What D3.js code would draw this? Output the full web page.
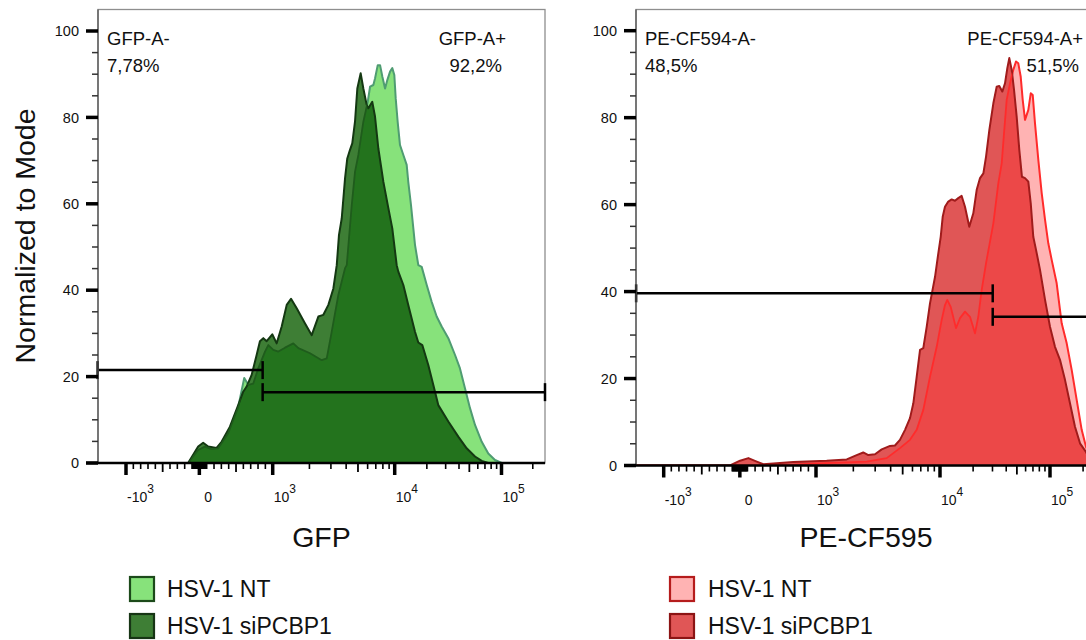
<!DOCTYPE html>
<html><head><meta charset="utf-8">
<script src="https://cdn.jsdelivr.net/npm/d3@7"></script>
<style>
body{margin:0;background:#fff}
svg{display:block}
text{font-family:"Liberation Sans",Arial,sans-serif;fill:#111}
</style>
</head><body>
<svg id="chart" width="1086" height="640"></svg>
<script>
// ---------------- DATA ----------------
// GFP panel: [fluorescence, % of mode]
const gfpNT = [[-153,0],[-16,3.0],[75,3.8],[167,3.2],[257,3.4],[393,6.9],[530,13],[612,19.7],[667,18.1],[735,18.4],[803,21.9],[895,25.8],[940,27.3],[1011,26.2],[1112,25.8],[1262,26.7],[1476,27.7],[1623,26.6],[2023,25.4],[2523,23.8],[2773,24.2],[3047,30.4],[3452,38.9],[3917,45.1],[4045,45.8],[4446,59.7],[4727,67.4],[5035,71.3],[5534,79],[6012,83.6],[6281,87.1],[6683,87.5],[6897,89],[7261,92.1],[7586,92.1],[7925,89.4],[8336,86.7],[8710,88.7],[9162,90.6],[9556,91.4],[9930,89.8],[10220,84.4],[10660,79],[11210,73.6],[12050,71.3],[12950,69],[13400,65.1],[14210,59.7],[15490,50.5],[16640,45.8],[17900,45.4],[19950,41.2],[22190,37.3],[24720,33.9],[27540,31.6],[31770,28.9],[36730,25],[40840,21.9],[45500,17.3],[50700,12.7],[56490,8.8],[65310,4.9],[75200,2.2],[86900,0.7],[100500,0]];
const gfpSi = [[-153,0],[-16,3.8],[52,4.7],[120,3.8],[235,3.5],[303,4.9],[417,8.4],[530,13.4],[598,16.5],[645,17.7],[713,20.4],[781,25],[826,28.2],[872,28.9],[918,28.2],[994,29.8],[1078,27.7],[1185,31.6],[1303,36.6],[1413,38],[1573,35.8],[1841,32.3],[2089,29.6],[2367,33.9],[2602,34.3],[2860,36.6],[3143,40.4],[3350,45.8],[3494,52.8],[3679,56.6],[3917,65.9],[4086,70.5],[4301,72.5],[4489,74],[4727,79],[4939,86.7],[5263,90.2],[5534,86.7],[5893,82.9],[6080,82.1],[6550,83.6],[6897,80.2],[7345,72.8],[8072,65.1],[8872,59],[9556,54.3],[10440,45.8],[10810,44.3],[12050,41.2],[13400,36.6],[15490,30.4],[16640,27.9],[18130,27.3],[20630,22.7],[22970,18.1],[25590,13.4],[31770,9.6],[39390,6.1],[47200,3.4],[56490,1.5],[65310,0.5],[75200,0]];
// PE-CF595 panel
const peNT = [[-1362,0],[-129,0],[702,0.2],[1013,0.5],[2567,0.9],[3716,1.7],[4753,4.0],[5728,5.9],[6486,8.2],[7334,12.8],[8305,20.4],[9404,27.3],[10360,33.5],[11100,36.9],[11650,38.1],[12510,36.5],[13970,31.6],[15200,33.9],[16870,35.4],[18740,34.2],[20800,30.4],[22290,34.2],[23940,40.4],[26200,46.5],[30550,55.7],[33880,64.9],[36390,69.5],[38190,76.4],[40380,84.1],[43290,87.9],[46380,91],[49070,92.9],[51500,92.5],[54180,89.4],[56490,84.1],[59290,79.5],[63530,81.8],[66830,85.6],[69660,85.2],[73050,78.7],[78320,70.3],[84100,62.6],[90160,56.5],[96500,51.1],[103600,47.3],[115000,41.9],[127700,32.7],[141900,28.1],[157500,22],[174900,15.1],[194200,8.2],[212600,4.3],[240900,1],[262144,0]];
const peSi = [[-1362,0],[-129,0],[3,1.1],[112,1.7],[222,0.9],[308,0.3],[702,0.8],[1219,1.1],[1770,1.4],[2128,2.4],[2404,3.0],[2642,2.4],[2992,2.6],[3388,3.7],[3953,4.5],[4335,4.6],[4753,5.9],[5224,8.2],[5728,10.9],[6095,14.3],[6486,20.4],[6902,26.6],[7334,27],[7810,31.9],[8305,37.3],[9120,43.4],[9690,48.8],[10150,52.6],[10580,57.2],[11100,59.5],[11890,60.7],[12770,61.2],[13680,60.9],[14650,61.5],[15740,62],[16870,59.5],[18460,54.9],[20080,58],[21560,63.4],[23120,66.1],[24790,67.2],[26200,71],[28100,77.2],[30550,83.3],[32760,87.1],[34590,87.3],[36840,86],[38990,87.9],[40930,91.4],[42660,93.7],[44870,91],[47100,86.4],[49800,80.2],[52600,72.6],[55600,66.4],[59290,66.1],[63530,65.3],[66830,60.3],[70470,52.6],[74650,49.6],[81130,45],[90160,38.1],[100000,31.9],[111000,27.3],[123300,24.3],[136900,19.7],[152000,14.3],[168800,8.9],[187500,5.1],[212600,3.1],[246000,0]];

// gates: [xStart, xEnd, height]
const gfpGates = [[-1387,863,21.5],[863,262144,16.4]];
const peGates = [[-1362,30150,39.6],[30150,262144,34.2]];
const gfpGateText = [["GFP-A-","7,78%"],["GFP-A+","92,2%"]];
const peGateText = [["PE-CF594-A-","48,5%"],["PE-CF594-A+","51,5%"]];

const legendLabels = ["HSV-1 NT","HSV-1 siPCBP1"];
const axisTitles = ["GFP","PE-CF595"];
const yTitle = "Normalized to Mode";

// ticks
const xMajor = [-1000,0,1000,10000,100000];
const xMajorLabels = [["-10","3"],["0",""],["10","3"],["10","4"],["10","5"]];
const xMid = [-500,500,5000,50000];
const xMinor = [-900,-800,-700,-600,-400,-300,-200,-100,-90,-80,-70,-60,-50,-40,-30,-20,-10,10,20,30,40,50,60,70,80,90,100,200,300,400,600,700,800,900,2000,3000,4000,6000,7000,8000,9000,20000,30000,40000,60000,70000,80000,90000,200000];
const yMajor = [0,20,40,60,80,100];
const yMinor = [5,10,15,25,30,35,45,50,55,65,70,75,85,90,95];

// ---------------- LAYOUT / STYLE ----------------
const panels = [
  {id:"g", nt:gfpNT, si:gfpSi, gates:gfpGates, gateText:gfpGateText, title:axisTitles[0],
   L:{x0:98, xm1000:126, x1000:272.7, x1e4:394.7, x1e5:501.5, x1:545, top:9.5, base:463, y100:31},
   leg:{x:130, tx:167}, txr:506,
   c:{ntFill:"#87e27b", ntStroke:"#4f9c72", ntInner:"#1f5c1c", siFill:"#3e7e35", siStroke:"#143812", ov:"#23731d",
      legNtStroke:"#1c4a1a", legSiStroke:"#173515"}},
  {id:"r", nt:peNT, si:peSi, gates:peGates, gateText:peGateText, title:axisTitles[1],
   L:{x0:636, xm1000:663.7, x1000:816, x1e4:940, x1e5:1050, x1:1096, top:9.5, base:465.5, y100:30.7},
   leg:{x:670, tx:708}, txr:1083,
   c:{ntFill:"#ffb3b3", ntStroke:"#ff2b2b", ntInner:"#ff2b2b", siFill:"#e05656", siStroke:"#a01b1b", ov:"#ec4848",
      legNtStroke:"#b51c1c", legSiStroke:"#8c1414"}}
];

const svg = d3.select("#chart");

panels.forEach(p => {
  const L = p.L, c = p.c;
  const lin = d3.scaleLinear().domain([-1000, 1000]).range([L.xm1000, L.x1000]);
  const lg = d3.scaleLog().domain([1000, 10000, 100000, 262144]).range([L.x1000, L.x1e4, L.x1e5, L.x1]);
  const xs = v => (v >= 1000 ? lg(v) : lin(v));
  const ys = d3.scaleLinear().domain([0, 100]).range([L.base, L.y100]);

  const g = svg.append("g");
  const defs = g.append("defs");
  defs.append("clipPath").attr("id", "plot-" + p.id)
    .append("rect").attr("x", L.x0).attr("y", L.top).attr("width", L.x1 - L.x0).attr("height", L.base - L.top);

  const area = d3.area().x(d => xs(d[0])).y0(ys(0)).y1(d => ys(d[1]));
  const line = d3.line().x(d => xs(d[0])).y(d => ys(d[1]));

  defs.append("clipPath").attr("id", "si-" + p.id).append("path").attr("d", area(p.si));

  // frame
  g.append("rect").attr("x", L.x0).attr("y", L.top).attr("width", L.x1 - L.x0).attr("height", L.base - L.top)
    .attr("fill", "none").attr("stroke", "#8e8e8e").attr("stroke-width", 1.3);

  const plot = g.append("g").attr("clip-path", "url(#plot-" + p.id + ")");
  plot.append("path").attr("d", area(p.nt)).attr("fill", c.ntFill);
  plot.append("path").attr("d", line(p.nt)).attr("fill", "none").attr("stroke", c.ntStroke).attr("stroke-width", 2).attr("stroke-linejoin", "round");
  plot.append("path").attr("d", area(p.si)).attr("fill", c.siFill);
  plot.append("path").attr("d", area(p.nt)).attr("fill", c.ov).attr("clip-path", "url(#si-" + p.id + ")");
  plot.append("path").attr("d", line(p.si)).attr("fill", "none").attr("stroke", c.siStroke).attr("stroke-width", 2).attr("stroke-linejoin", "round");
  plot.append("path").attr("d", line(p.nt)).attr("fill", "none").attr("stroke", c.ntInner).attr("stroke-width", 1.8)
    .attr("stroke-linejoin", "round").attr("clip-path", "url(#si-" + p.id + ")");

  // gates
  p.gates.forEach(gt => {
    const gx0 = xs(gt[0]), gx1 = xs(gt[1]), gy = ys(gt[2]);
    g.append("line").attr("x1", gx0).attr("x2", gx1).attr("y1", gy).attr("y2", gy).attr("stroke", "#000").attr("stroke-width", 2.5);
    [gx0, gx1].forEach(xx => g.append("line").attr("x1", xx).attr("x2", xx).attr("y1", gy - 9).attr("y2", gy + 9)
      .attr("stroke", "#000").attr("stroke-width", 2.5));
  });

  // y axis
  g.append("line").attr("x1", L.x0).attr("x2", L.x0).attr("y1", L.top).attr("y2", L.base).attr("stroke", "#555").attr("stroke-width", 1.3);
  yMinor.forEach(v => g.append("line").attr("x1", L.x0 - 6).attr("x2", L.x0).attr("y1", ys(v)).attr("y2", ys(v)).attr("stroke", "#333").attr("stroke-width", 1.5));
  yMajor.forEach(v => {
    g.append("line").attr("x1", L.x0 - 12).attr("x2", L.x0).attr("y1", ys(v)).attr("y2", ys(v)).attr("stroke", "#000").attr("stroke-width", 3.5);
    g.append("text").attr("x", L.x0 - 19).attr("y", ys(v)).attr("dy", "0.36em").attr("text-anchor", "end").attr("font-size", 14.5).text(v);
  });

  // x axis
  g.append("line").attr("x1", L.x0 - 12).attr("x2", L.x1).attr("y1", L.base).attr("y2", L.base).attr("stroke", "#000").attr("stroke-width", 2.5);
  xMinor.forEach(v => g.append("line").attr("x1", xs(v)).attr("x2", xs(v)).attr("y1", L.base).attr("y2", L.base + 6).attr("stroke", "#000").attr("stroke-width", 1.6));
  xMid.forEach(v => g.append("line").attr("x1", xs(v)).attr("x2", xs(v)).attr("y1", L.base).attr("y2", L.base + 9).attr("stroke", "#000").attr("stroke-width", 1.8));
  xMajor.forEach((v, i) => {
    g.append("line").attr("x1", xs(v)).attr("x2", xs(v)).attr("y1", L.base).attr("y2", L.base + 12).attr("stroke", "#000").attr("stroke-width", 3.5);
    const lab = xMajorLabels[i];
    const t = g.append("text").attr("x", xs(v) + (lab[1] ? 1 : 5)).attr("y", L.base + 39).attr("font-size", 14);
    t.append("tspan").text(lab[0]);
    if (lab[1]) t.append("tspan").attr("dy", -9).attr("font-size", 12).text(lab[1]);
  });

  // gate labels
  const tx0 = L.x0 + 9;
  g.append("text").attr("x", tx0).attr("y", L.top + 35).attr("font-size", 18.5).text(p.gateText[0][0]);
  g.append("text").attr("x", tx0).attr("y", L.top + 62).attr("font-size", 18.5).text(p.gateText[0][1]);
  g.append("text").attr("x", p.txr).attr("y", L.top + 35).attr("font-size", 18.5).attr("text-anchor", "end").text(p.gateText[1][0]);
  g.append("text").attr("x", p.txr - 4).attr("y", L.top + 62).attr("font-size", 18.5).attr("text-anchor", "end").text(p.gateText[1][1]);

  // axis title
  g.append("text").attr("x", (L.x0 + L.x1) / 2).attr("y", 547).attr("text-anchor", "middle").attr("font-size", 28.5).text(p.title);

  // legend
  const legFills = [c.ntFill, c.siFill], legStrokes = [c.legNtStroke, c.legSiStroke];
  legendLabels.forEach((lbl, i) => {
    const yy = 577 + i * 37;
    g.append("rect").attr("x", p.leg.x).attr("y", yy).attr("width", 24).attr("height", 24)
      .attr("fill", legFills[i]).attr("stroke", legStrokes[i]).attr("stroke-width", 2.2);
    g.append("text").attr("x", p.leg.tx).attr("y", yy + 20).attr("font-size", 23).text(lbl);
  });
});

svg.append("text").attr("transform", "translate(35,236) rotate(-90)").attr("text-anchor", "middle").attr("font-size", 28.5).text(yTitle);
</script>
</body></html>
